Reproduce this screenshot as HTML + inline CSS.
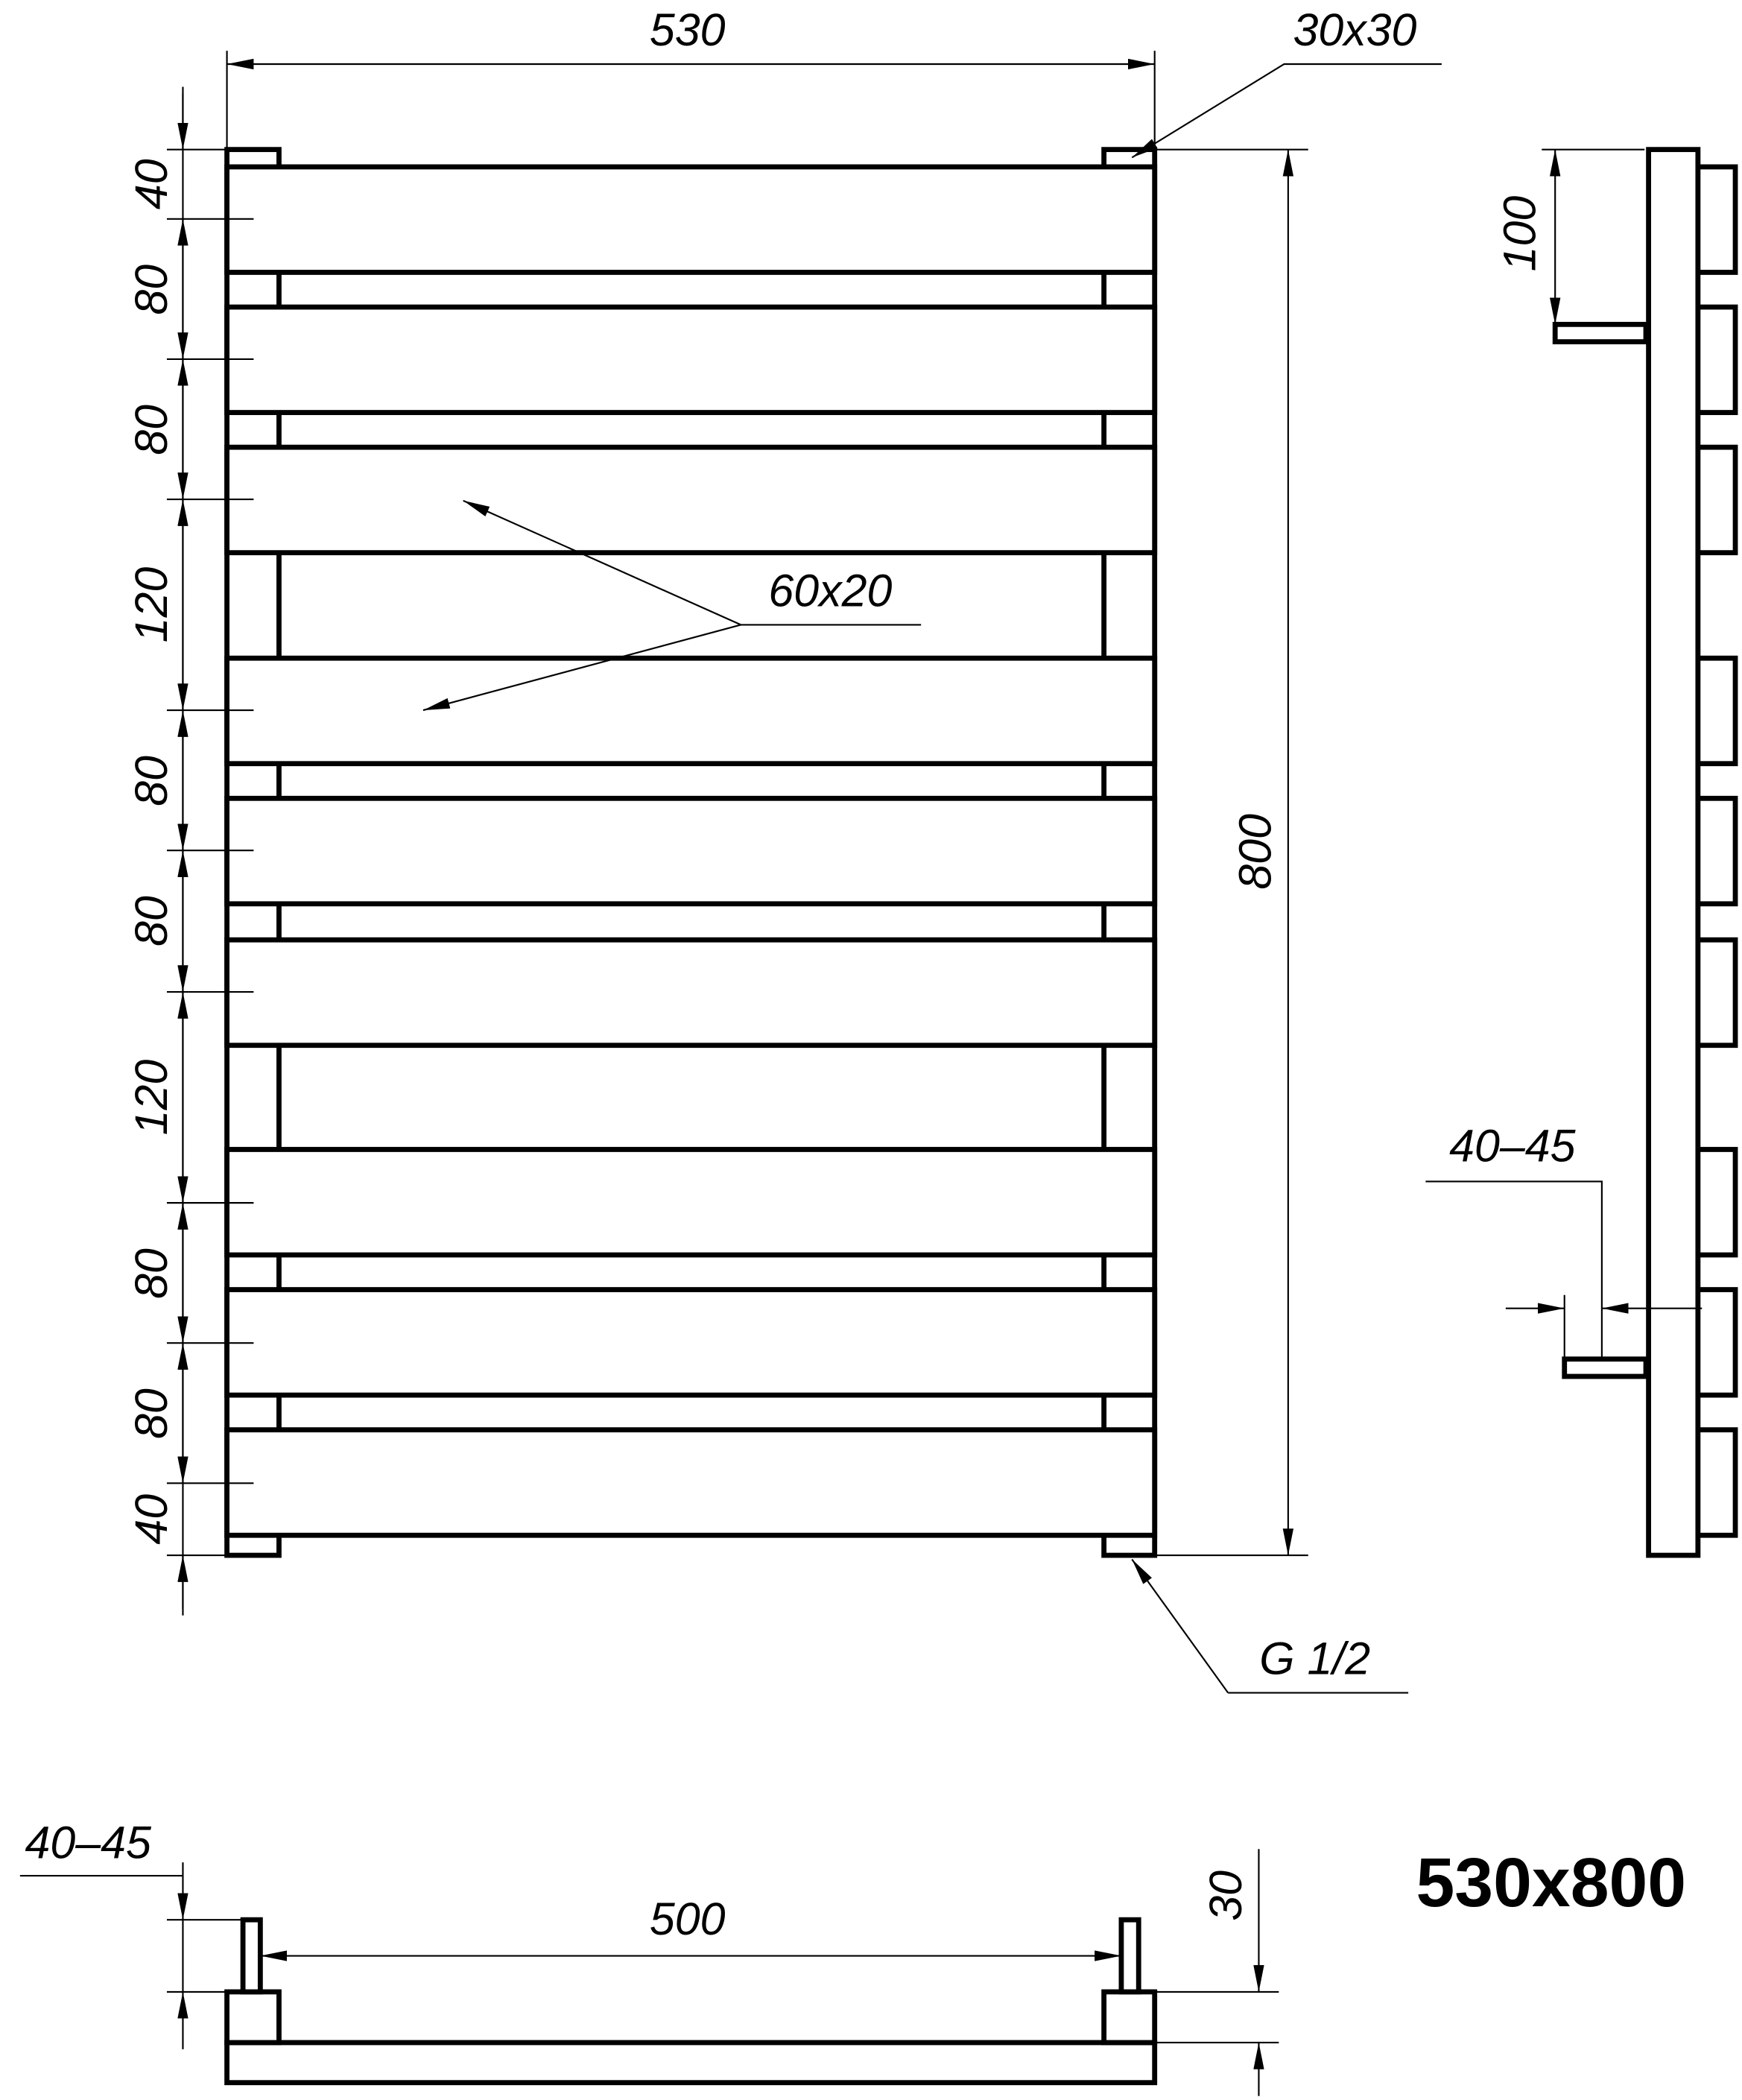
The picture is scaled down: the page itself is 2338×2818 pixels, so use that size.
<!DOCTYPE html>
<html><head><meta charset="utf-8"><style>
html,body{margin:0;padding:0;background:#fff;}
svg{display:block;}
text{font-family:"Liberation Sans",sans-serif;font-style:italic;fill:#000;}
</style></head><body>
<svg width="2338" height="2818" viewBox="0 0 1305 1573" preserveAspectRatio="none" xmlns="http://www.w3.org/2000/svg">
<defs>
<marker id="a" viewBox="0 0 20 8" refX="20" refY="4" markerWidth="20" markerHeight="8" markerUnits="userSpaceOnUse" orient="auto-start-reverse"><path d="M0,0 L20,4 L0,8 z" fill="#000"/></marker>
</defs>
<rect width="1305" height="1573" fill="#fff"/>
<g fill="#fff" stroke="#000" stroke-width="3.8">
<rect x="170" y="112" width="39" height="1053"/>
<rect x="827" y="112" width="38" height="1053"/>
<rect x="170" y="125" width="695" height="79"/>
<rect x="170" y="230" width="695" height="79"/>
<rect x="170" y="335" width="695" height="79"/>
<rect x="170" y="493" width="695" height="79"/>
<rect x="170" y="598" width="695" height="79"/>
<rect x="170" y="704" width="695" height="79"/>
<rect x="170" y="861" width="695" height="79"/>
<rect x="170" y="966" width="695" height="79"/>
<rect x="170" y="1071" width="695" height="79"/>
<rect x="1270" y="125" width="30" height="79"/>
<rect x="1270" y="230" width="30" height="79"/>
<rect x="1270" y="335" width="30" height="79"/>
<rect x="1270" y="493" width="30" height="79"/>
<rect x="1270" y="598" width="30" height="79"/>
<rect x="1270" y="704" width="30" height="79"/>
<rect x="1270" y="861" width="30" height="79"/>
<rect x="1270" y="966" width="30" height="79"/>
<rect x="1270" y="1071" width="30" height="79"/>
<rect x="1235" y="112" width="37" height="1053"/>
<rect x="1165" y="243" width="68" height="13"/>
<rect x="1172" y="1018" width="61" height="13"/>
<rect x="170" y="1530" width="695" height="30"/>
<rect x="170" y="1492" width="39" height="38"/>
<rect x="827" y="1492" width="38" height="38"/>
<rect x="182" y="1438" width="13" height="54"/>
<rect x="840" y="1438" width="13" height="54"/>
</g>
<g stroke="#000" stroke-width="1.2" fill="none">
<line x1="170" y1="38" x2="170" y2="112"/><line x1="865" y1="38" x2="865" y2="112"/>
<line x1="170" y1="48" x2="865" y2="48" marker-start="url(#a)" marker-end="url(#a)"/>
<polyline points="1080,48 962,48 848,118" marker-end="url(#a)"/>
<line x1="865" y1="112" x2="980" y2="112"/><line x1="865" y1="1165" x2="980" y2="1165"/>
<line x1="965" y1="112" x2="965" y2="1165" marker-start="url(#a)" marker-end="url(#a)"/>
<line x1="137" y1="65" x2="137" y2="1210"/>
<g>
<line x1="125" y1="112" x2="170" y2="112"/><line x1="125" y1="164" x2="190" y2="164"/>
<line x1="125" y1="269" x2="190" y2="269"/><line x1="125" y1="374" x2="190" y2="374"/>
<line x1="125" y1="532" x2="190" y2="532"/><line x1="125" y1="637" x2="190" y2="637"/>
<line x1="125" y1="743" x2="190" y2="743"/><line x1="125" y1="901" x2="190" y2="901"/>
<line x1="125" y1="1006" x2="190" y2="1006"/><line x1="125" y1="1111" x2="190" y2="1111"/>
<line x1="125" y1="1165" x2="170" y2="1165"/>
</g>
<line x1="137" y1="70" x2="137" y2="112" marker-end="url(#a)"/>
<line x1="137" y1="164" x2="137" y2="269" marker-start="url(#a)" marker-end="url(#a)"/>
<line x1="137" y1="269" x2="137" y2="374" marker-start="url(#a)" marker-end="url(#a)"/>
<line x1="137" y1="374" x2="137" y2="532" marker-start="url(#a)" marker-end="url(#a)"/>
<line x1="137" y1="532" x2="137" y2="637" marker-start="url(#a)" marker-end="url(#a)"/>
<line x1="137" y1="637" x2="137" y2="743" marker-start="url(#a)" marker-end="url(#a)"/>
<line x1="137" y1="743" x2="137" y2="901" marker-start="url(#a)" marker-end="url(#a)"/>
<line x1="137" y1="901" x2="137" y2="1006" marker-start="url(#a)" marker-end="url(#a)"/>
<line x1="137" y1="1006" x2="137" y2="1111" marker-start="url(#a)" marker-end="url(#a)"/>
<line x1="137" y1="1205" x2="137" y2="1165" marker-end="url(#a)"/>
<line x1="555" y1="468" x2="690" y2="468"/>
<line x1="555" y1="468" x2="347" y2="375" marker-end="url(#a)"/>
<line x1="555" y1="468" x2="317" y2="532" marker-end="url(#a)"/>
<line x1="920" y1="1268" x2="1055" y2="1268"/>
<line x1="920" y1="1268" x2="848" y2="1168" marker-end="url(#a)"/>
<line x1="1155" y1="112" x2="1232" y2="112"/>
<line x1="1165" y1="112" x2="1165" y2="243" marker-start="url(#a)" marker-end="url(#a)"/>
<polyline points="1068,885 1200,885 1200,1018"/>
<line x1="1172" y1="970" x2="1172" y2="1018"/>
<line x1="1128" y1="980" x2="1172" y2="980" marker-end="url(#a)"/>
<line x1="1275" y1="980" x2="1200" y2="980" marker-end="url(#a)"/>
<line x1="195" y1="1465" x2="840" y2="1465" marker-start="url(#a)" marker-end="url(#a)"/>
<line x1="865" y1="1492" x2="958" y2="1492"/><line x1="865" y1="1530" x2="958" y2="1530"/>
<line x1="943" y1="1385" x2="943" y2="1492" marker-end="url(#a)"/>
<line x1="943" y1="1570" x2="943" y2="1530" marker-end="url(#a)"/>
<line x1="15" y1="1405" x2="137" y2="1405"/>
<line x1="125" y1="1438" x2="182" y2="1438"/><line x1="125" y1="1492" x2="170" y2="1492"/>
<line x1="137" y1="1395" x2="137" y2="1438" marker-end="url(#a)"/>
<line x1="137" y1="1535" x2="137" y2="1492" marker-end="url(#a)"/>
<line x1="137" y1="1438" x2="137" y2="1492"/>
</g>
<g font-size="34">
<text x="515" y="34" text-anchor="middle">530</text>
<text x="1015" y="34" text-anchor="middle">30x30</text>
<text x="622" y="454" text-anchor="middle">60x20</text>
<text x="985" y="1254" text-anchor="middle">G 1/2</text>
<text x="1133" y="870" text-anchor="middle">40–45</text>
<text x="66" y="1392" text-anchor="middle">40–45</text>
<text x="515" y="1449" text-anchor="middle">500</text>
<text transform="translate(952,638) rotate(-90)" text-anchor="middle">800</text>
<text transform="translate(1150,175) rotate(-90)" text-anchor="middle">100</text>
<text transform="translate(930,1420) rotate(-90)" text-anchor="middle">30</text>
<text transform="translate(125,138) rotate(-90)" text-anchor="middle">40</text>
<text transform="translate(125,217) rotate(-90)" text-anchor="middle">80</text>
<text transform="translate(125,322) rotate(-90)" text-anchor="middle">80</text>
<text transform="translate(125,453) rotate(-90)" text-anchor="middle">120</text>
<text transform="translate(125,585) rotate(-90)" text-anchor="middle">80</text>
<text transform="translate(125,690) rotate(-90)" text-anchor="middle">80</text>
<text transform="translate(125,822) rotate(-90)" text-anchor="middle">120</text>
<text transform="translate(125,954) rotate(-90)" text-anchor="middle">80</text>
<text transform="translate(125,1059) rotate(-90)" text-anchor="middle">80</text>
<text transform="translate(125,1138) rotate(-90)" text-anchor="middle">40</text>
</g>
<text x="1162" y="1428" text-anchor="middle" font-size="52" font-weight="bold" style="font-style:normal">530x800</text>
</svg>
</body></html>
